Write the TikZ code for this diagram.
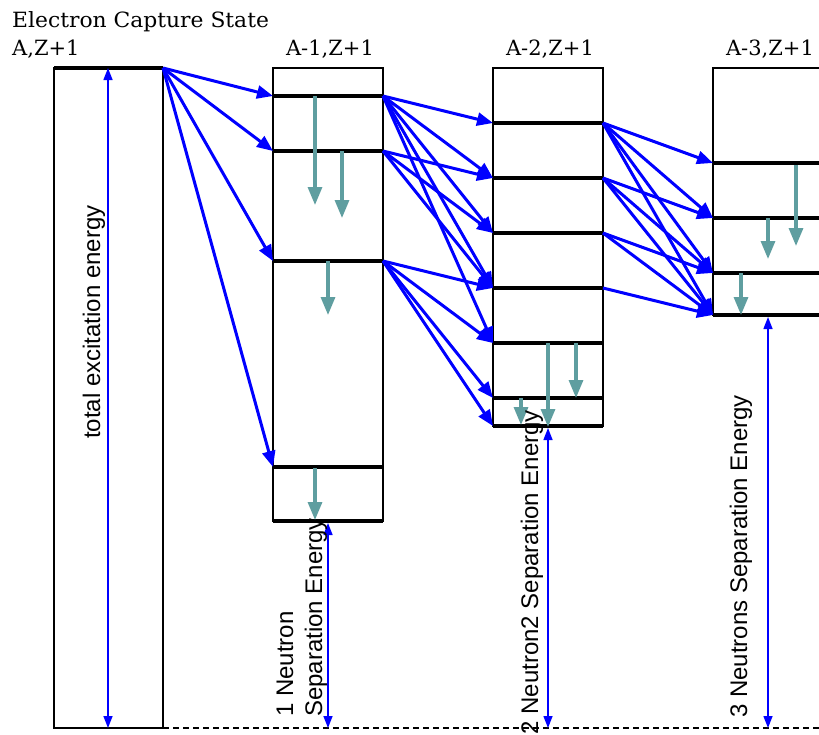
\documentclass[tikz,border=0pt]{standalone}
\usepackage{fontspec}
\setmainfont{DejaVu Serif}
\setsansfont{Liberation Sans}
\usetikzlibrary{arrows.meta}
\definecolor{gammac}{RGB}{95,158,160}
\begin{document}
\begin{tikzpicture}[x=1pt,y=-1pt,
 boxst/.style={draw=black,line width=1.6pt,inner sep=0pt,outer sep=0pt,anchor=north west},
 lvl/.style={line width=4.5pt,line cap=butt},
 emis/.style={draw=blue,line width=3pt,-{Triangle[length=16pt,width=13pt]}},
 gam/.style={draw=gammac,line width=3.2pt,-{Triangle[length=18pt,width=14pt]}},
 sep/.style={draw=blue,line width=1.4pt,{Triangle[length=12pt,width=9pt]}-{Triangle[length=12pt,width=9pt]}},
 ttl/.style={font=\fontsize{21}{23}\selectfont,inner sep=0pt,anchor=base west},
 lab/.style={font=\sffamily\fontsize{24}{28}\selectfont,inner sep=0pt,rotate=90}]
\useasboundingbox (0,0) rectangle (819,734);
\clip (0,0) rectangle (819,734);
% titles
\node[ttl] (t0) at (12,27) {\scalebox{1.04}[1]{Electron Capture State}};
\node[ttl] (t1) at (12,55) {\scalebox{1.0}[1]{A,Z+1}};
\node[ttl,anchor=base] (t2) at (330,55) {\scalebox{1.0}[1]{A-1,Z+1}};
\node[ttl,anchor=base] (t3) at (550,55) {\scalebox{1.0}[1]{A-2,Z+1}};
\node[ttl,anchor=base] (t4) at (770,55) {\scalebox{1.0}[1]{A-3,Z+1}};
% boxes
\node[boxst,minimum width=109pt,minimum height=660pt] (b0) at (54,68) {};
\node[boxst,minimum width=110pt,minimum height=453pt] (b1) at (273,68) {};
\node[boxst,minimum width=110pt,minimum height=358pt] (b2) at (493,68) {};
\node[boxst,minimum width=112pt,minimum height=247pt] (b3) at (713,68) {};
% levels
\coordinate (L0) at (54,68); \coordinate (R0) at (163,68);
\draw[lvl] (L0) -- (R0);
\foreach \y [count=\i] in {96,151,261,467,521}{
  \coordinate (L1-\i) at (273,\y); \coordinate (R1-\i) at (383,\y);
  \draw[lvl] (L1-\i) -- (R1-\i);}
\foreach \y [count=\i] in {123,178,233,288,343,398,426}{
  \coordinate (L2-\i) at (493,\y); \coordinate (R2-\i) at (603,\y);
  \draw[lvl] (L2-\i) -- (R2-\i);}
\foreach \y [count=\i] in {163,218,273,315}{
  \coordinate (L3-\i) at (713,\y); \coordinate (R3-\i) at (825,\y);
  \draw[lvl] (L3-\i) -- (R3-\i);}
% dashed baseline
\coordinate (dA) at (163,728); \coordinate (dB) at (819,728);
\draw[line width=1.3pt,dash pattern=on 6pt off 4pt] (dA) -- (dB);
% neutron emission arrows
\foreach \j in {1,2,3,4} \draw[emis] (R0) -- (L1-\j);
\foreach \j in {1,2,3,4,5} \draw[emis] (R1-1) -- (L2-\j);
\foreach \j in {2,3,4} \draw[emis] (R1-2) -- (L2-\j);
\foreach \j in {4,5,6,7} \draw[emis] (R1-3) -- (L2-\j);
\foreach \j in {1,2,3,4} \draw[emis] (R2-1) -- (L3-\j);
\foreach \j in {2,3,4} \draw[emis] (R2-2) -- (L3-\j);
\foreach \j in {3,4} \draw[emis] (R2-3) -- (L3-\j);
\draw[emis] (R2-4) -- (L3-4);
% gamma arrows
\foreach \x/\a/\b [count=\k] in {315/96/205,342/151/218,328/261/315,315/468/520,
  548/343/427,576/343/398,521/398/425,796/165/246,768/218/259,741/273/315}{
  \coordinate (gs\k) at (\x,\a); \coordinate (ge\k) at (\x,\b);
  \draw[gam] (gs\k) -- (ge\k);}
% separation energies
\coordinate (s0a) at (108,68);  \coordinate (s0b) at (108,728);
\coordinate (s1a) at (328,523); \coordinate (s1b) at (328,728);
\coordinate (s2a) at (548,428); \coordinate (s2b) at (548,728);
\coordinate (s3a) at (768,317); \coordinate (s3b) at (768,728);
\draw[sep] (s0a) -- (s0b);
\draw[sep] (s1a) -- (s1b);
\draw[sep] (s2a) -- (s2b);
\draw[sep] (s3a) -- (s3b);
% rotated labels
\node[lab,anchor=base] (x0) at (100,322) {total excitation energy};
\node[lab,anchor=base west] (x1) at (293,717) {1 Neutron};
\node[lab,anchor=base west] (x1b) at (322,717) {Separation Energy};
\node[lab,anchor=base east] (x2) at (538,410) {2 Neutron2 Separation Energy};
\node[lab,anchor=base west] (x3) at (747,718) {3 Neutrons Separation Energy};
\end{tikzpicture}
\end{document}
